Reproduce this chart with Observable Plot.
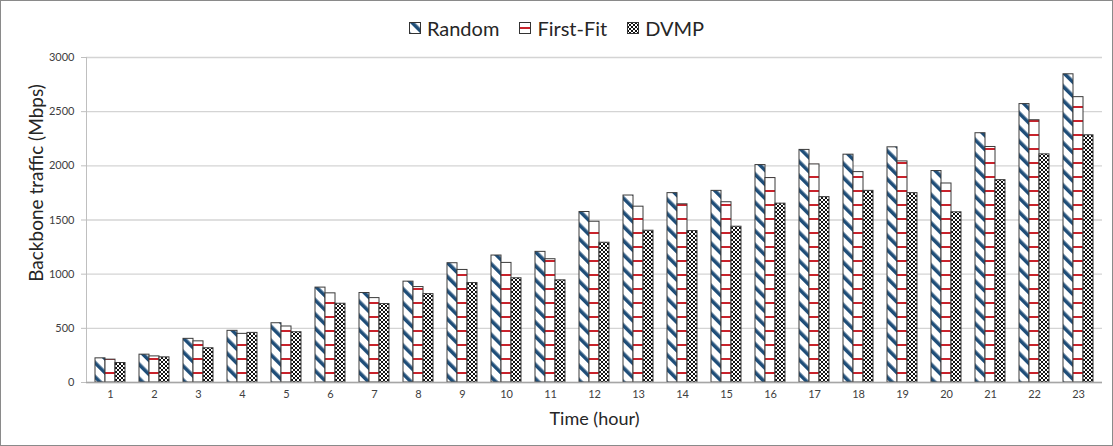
<!DOCTYPE html>
<html>
<head>
<meta charset="utf-8">
<script src="https://cdn.jsdelivr.net/npm/d3@7"></script>
<script src="https://cdn.jsdelivr.net/npm/@observablehq/plot@0.6"></script>
<style>
  html, body { margin: 0; padding: 0; background: #fff; }
  #frame { position: relative; width: 1113px; height: 446px; box-sizing: border-box; border: 1px solid #8a8a8a; background: #fff; overflow: hidden; font-family: Lato, "Open Sans", sans-serif; }
  #legend { height: 44px; box-sizing: border-box; padding-top: 10px; display: flex; justify-content: center; align-items: center; gap: 20px; font-size: 20px; color: #262626; }
  .item { display: flex; align-items: center; gap: 6px; }
  .item svg { display: block; }
</style>
</head>
<body>
<svg width="0" height="0" style="position:absolute">
  <defs>
    <pattern id="pRandom" patternUnits="userSpaceOnUse" width="10" height="10" patternTransform="rotate(-45)">
      <rect x="0" y="0" width="10" height="10" fill="#ffffff"></rect>
      <rect x="0" y="0" width="3.6" height="10" fill="#1f4e79"></rect>
    </pattern>
    <pattern id="pFirstFit" patternUnits="userSpaceOnUse" width="10" height="14">
      <rect x="0" y="0" width="10" height="14" fill="#ffffff"></rect>
      <rect x="0" y="5" width="10" height="2" fill="#c8232c"></rect>
    </pattern>
    <pattern id="pDVMP" patternUnits="userSpaceOnUse" width="4" height="4">
      <rect x="0" y="0" width="4" height="4" fill="#ffffff"></rect>
      <rect x="0" y="0" width="2" height="2" fill="#111111"></rect>
      <rect x="2" y="2" width="2" height="2" fill="#111111"></rect>
    </pattern>
  </defs>
</svg>
<div id="frame">
  <div id="legend"></div>
  <div id="chart"></div>
</div>
<script>
// ---- data ----
const hours = [1,2,3,4,5,6,7,8,9,10,11,12,13,14,15,16,17,18,19,20,21,22,23];
const seriesNames = ["Random", "First-Fit", "DVMP"];
const random   = [223,257,403,477,547,876,826,931,1101,1172,1206,1574,1726,1748,1769,2007,2147,2103,2171,1952,2301,2570,2845];
const firstFit = [211,241,380,449,517,823,779,881,1039,1104,1138,1484,1623,1645,1664,1887,2013,1942,2041,1837,2174,2421,2634];
const dvmp     = [180,232,316,458,464,727,724,816,918,962,943,1290,1401,1398,1438,1651,1711,1769,1748,1571,1868,2106,2282];
const yTicks = [0,500,1000,1500,2000,2500,3000];
const xLabel = "Time (hour)";
const yLabel = "Backbone traffic (Mbps)";

const patterns = {"Random": "url(#pRandom)", "First-Fit": "url(#pFirstFit)", "DVMP": "url(#pDVMP)"};
const valuesBySeries = {"Random": random, "First-Fit": firstFit, "DVMP": dvmp};

const rows = [];
seriesNames.forEach(s => hours.forEach((h, i) => rows.push({hour: h, series: s, value: valuesBySeries[s][i]})));

// legend
const legend = document.getElementById("legend");
seriesNames.forEach(s => {
  const item = document.createElement("div");
  item.className = "item";
  item.innerHTML = `<svg width="12" height="12"><rect x="0.5" y="0.5" width="11" height="11" fill="${patterns[s]}" stroke="#333" stroke-width="1"></rect></svg><span>${s}</span>`;
  legend.appendChild(item);
});

const barW = 10; // each bar occupies one third of the group band
const insets = {"Random": [0, 2 * barW], "First-Fit": [barW, barW], "DVMP": [2 * barW, 0]};

const chart = Plot.plot({
  width: 1111,
  height: 400,
  marginTop: 12,
  marginBottom: 63,
  marginLeft: 85,
  marginRight: 10,
  style: {fontFamily: "Lato, 'Open Sans', sans-serif", fontSize: "11px", color: "#404040", background: "transparent"},
  x: {type: "band", domain: hours, paddingInner: 0.32, paddingOuter: 0.16},
  y: {domain: [0, 3000]},
  marks: [
    Plot.gridY(yTicks, {stroke: "#d4d4d4", strokeOpacity: 1, strokeWidth: 1.3}),
    ...seriesNames.map(s => Plot.barY(rows.filter(d => d.series === s), {
      x: "hour", y: "value", fill: patterns[s], stroke: "#3a3a3a", strokeWidth: 1,
      insetLeft: insets[s][0], insetRight: insets[s][1]
    })),
    Plot.frame({anchor: "left", stroke: "#bfbfbf"}),
    Plot.ruleY([0], {stroke: "#a6a6a6", strokeWidth: 1.3}),
    Plot.axisY(yTicks, {tickSize: 5, tickPadding: 7, stroke: "#bfbfbf", fill: "#404040", label: null, tickFormat: d => String(d)}),
    Plot.axisX({tickSize: 0, tickPadding: 8, fill: "#404040", label: null}),
    Plot.text([xLabel], {frameAnchor: "bottom", textAnchor: "middle", lineAnchor: "middle", dy: 37, fontSize: 18, fill: "#262626"}),
    Plot.text([yLabel], {frameAnchor: "left", textAnchor: "middle", lineAnchor: "middle", dx: -50, dy: -37, rotate: -90, fontSize: 19, fill: "#262626"})
  ]
});
document.getElementById("chart").appendChild(chart);
</script>
</body>
</html>
